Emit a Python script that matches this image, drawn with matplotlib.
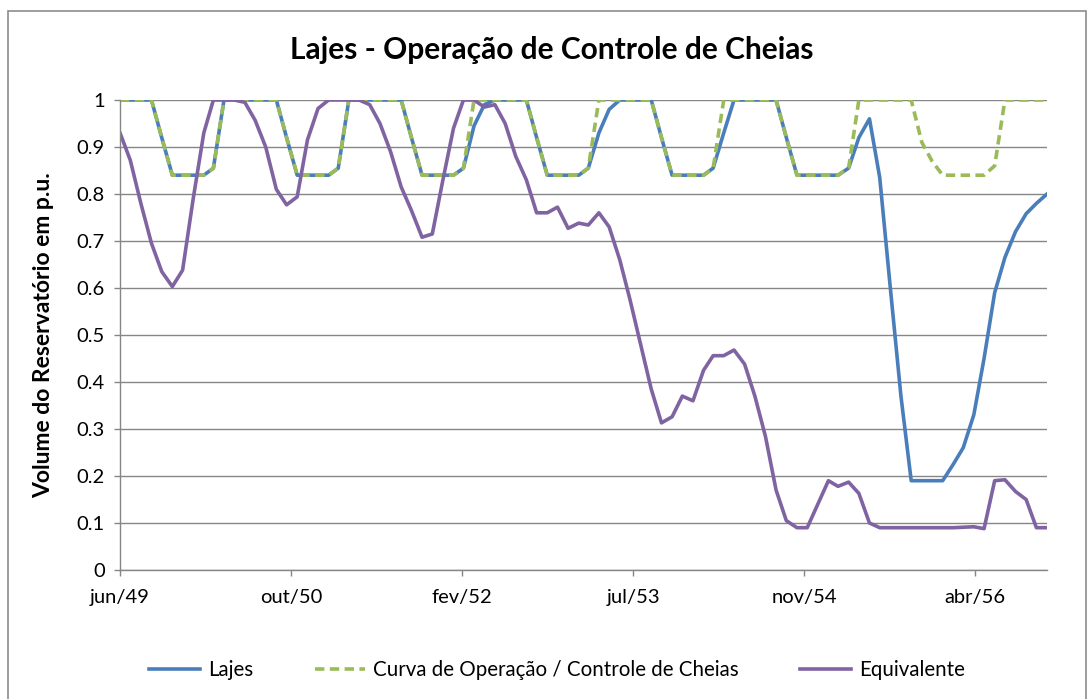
import pandas as pd
from matplotlib import rc, pyplot as plt, dates as mdates, patches as mpatches

rc('font', family = 'Lato', size = 12)

# Dados mensais jun/49 - nov/56 ------------------------------------------------------------------------------------- #
meses = pd.date_range('1949-06-01', periods = 90, freq = 'MS')

lajes = [
    1.0, 1.0, 1.0, 1.0, 0.92, 0.84, 0.84,
    0.84, 0.84, 0.855, 1.0, 1.0, 1.0, 1.0, 1.0, 1.0, 0.92, 0.84, 0.84,
    0.84, 0.84, 0.855, 1.0, 1.0, 1.0, 1.0, 1.0, 1.0, 0.92, 0.84, 0.84,
    0.84, 0.84, 0.855, 0.945, 0.99, 1.0, 1.0, 1.0, 1.0, 0.92, 0.84, 0.84,
    0.84, 0.84, 0.855, 0.93, 0.98, 1.0, 1.0, 1.0, 1.0, 0.92, 0.84, 0.84,
    0.84, 0.84, 0.855, 0.93, 1.0, 1.0, 1.0, 1.0, 1.0, 0.92, 0.84, 0.84,
    0.84, 0.84, 0.84, 0.855, 0.92, 0.96, 0.835, 0.60, 0.37, 0.19, 0.19, 0.19,
    0.19, 0.225, 0.26, 0.33, 0.45, 0.59, 0.665, 0.72, 0.758, 0.78, 0.80,
]

curva = [
    1.0, 1.0, 1.0, 1.0, 0.92, 0.84, 0.84,
    0.84, 0.84, 0.855, 1.0, 1.0, 1.0, 1.0, 1.0, 1.0, 0.92, 0.84, 0.84,
    0.84, 0.84, 0.855, 1.0, 1.0, 1.0, 1.0, 1.0, 1.0, 0.92, 0.84, 0.84,
    0.84, 0.84, 0.855, 1.0, 1.0, 1.0, 1.0, 1.0, 1.0, 0.92, 0.84, 0.84,
    0.84, 0.84, 0.855, 1.0, 1.0, 1.0, 1.0, 1.0, 1.0, 0.92, 0.84, 0.84,
    0.84, 0.84, 0.855, 1.0, 1.0, 1.0, 1.0, 1.0, 1.0, 0.92, 0.84, 0.84,
    0.84, 0.84, 0.84, 0.855, 1.0, 1.0, 1.0, 1.0, 1.0, 1.0, 0.91, 0.87,
    0.84, 0.84, 0.84, 0.84, 0.84, 0.86, 1.0, 1.0, 1.0, 1.0, 1.0,
]

equivalente = [
    0.93, 0.872, 0.78, 0.695, 0.635, 0.603, 0.638,
    0.79, 0.93, 1.0, 1.0, 1.0, 0.995, 0.957, 0.90, 0.81, 0.777, 0.794, 0.915,
    0.982, 1.0, 1.0, 1.0, 1.0, 0.99, 0.95, 0.89, 0.815, 0.765, 0.708, 0.715,
    0.83, 0.94, 1.0, 1.0, 0.985, 0.99, 0.95, 0.88, 0.83, 0.76, 0.76, 0.772,
    0.727, 0.738, 0.734, 0.76, 0.73, 0.66, 0.575, 0.48, 0.385, 0.313, 0.326, 0.37,
    0.36, 0.425, 0.456, 0.456, 0.468, 0.438, 0.37, 0.284, 0.17, 0.105, 0.09, 0.09,
    0.14, 0.19, 0.178, 0.187, 0.163, 0.10, 0.09, 0.09, 0.09, 0.09, 0.09, 0.09,
    0.09, 0.09, 0.091, 0.092, 0.088, 0.19, 0.192, 0.167, 0.15, 0.09, 0.09,
]

# eixo de datas do Excel: rótulos a cada 500 dias
rotulos_x = ['jun/49', 'out/50', 'fev/52', 'jul/53', 'nov/54', 'abr/56']
ticks_y = [0, 0.1, 0.2, 0.3, 0.4, 0.5, 0.6, 0.7, 0.8, 0.9, 1]

# Gráfico ------------------------------------------------------------------------------------------------------------ #
fig = plt.figure(figsize = (10.89, 6.99), dpi = 100)
ax = fig.add_axes([120 / 1089, 129 / 699, 927 / 1089, 470 / 699])

cinza = '#868686'
ax.plot(meses, lajes, color = '#4A7EBB', lw = 2.6, solid_joinstyle = 'round', label = 'Lajes')
ax.plot(meses, curva, color = '#9BBB59', lw = 2.6, linestyle = (0, (2.6, 1.5)), dash_joinstyle = 'round',
        label = 'Curva de Operação / Controle de Cheias')
ax.plot(meses, equivalente, color = '#8064A2', lw = 2.6, solid_joinstyle = 'round', label = 'Equivalente')

inicio = pd.Timestamp('1949-06-01')
posicoes = [inicio + pd.Timedelta(days = 500 * k) for k in range(len(rotulos_x))]
ax.set_xticks(posicoes)
ax.set_xticklabels(rotulos_x)
ax.set_xlim(meses[0], meses[-1])
ax.set_ylim(0, 1)
ax.set_yticks(ticks_y)
ax.set_yticklabels([f'{v:g}' for v in ticks_y])

ax.grid(axis = 'y', color = cinza, lw = 1.0)
ax.set_axisbelow(True)
for lado in ['top', 'right']:
    ax.spines[lado].set_visible(False)
for lado in ['left', 'bottom']:
    ax.spines[lado].set_color(cinza)
    ax.spines[lado].set_linewidth(1.0)
ax.tick_params(axis = 'both', colors = cinza, length = 4, width = 1.0, labelcolor = 'black', labelsize = 14.5)
ax.tick_params(axis = 'y', pad = 7)
ax.tick_params(axis = 'x', pad = 10)

ax.set_ylabel('Volume do Reservatório em p.u.', fontsize = 16.5, fontweight = 'bold')
ax.yaxis.set_label_coords(-0.071, 0.5)
fig.text(552 / 1089, 1 - 50 / 699, 'Lajes - Operação de Controle de Cheias', ha = 'center', va = 'center',
         fontsize = 21.5, fontweight = 'bold')

fig.legend(loc = 'center', bbox_to_anchor = (557 / 1089, 1 - 670 / 699), ncol = 3, frameon = False,
           fontsize = 14.8, handlelength = 2.45, handletextpad = 0.4, columnspacing = 3.0)

# moldura da área do gráfico
fig.patches.append(mpatches.Rectangle((8 / 1089, -0.05), 1078 / 1089, 1.05 - 11 / 699, transform = fig.transFigure,
                                      fill = False, edgecolor = '#8c8c8c', lw = 1.2))

plt.savefig('out.png', dpi = 100)
